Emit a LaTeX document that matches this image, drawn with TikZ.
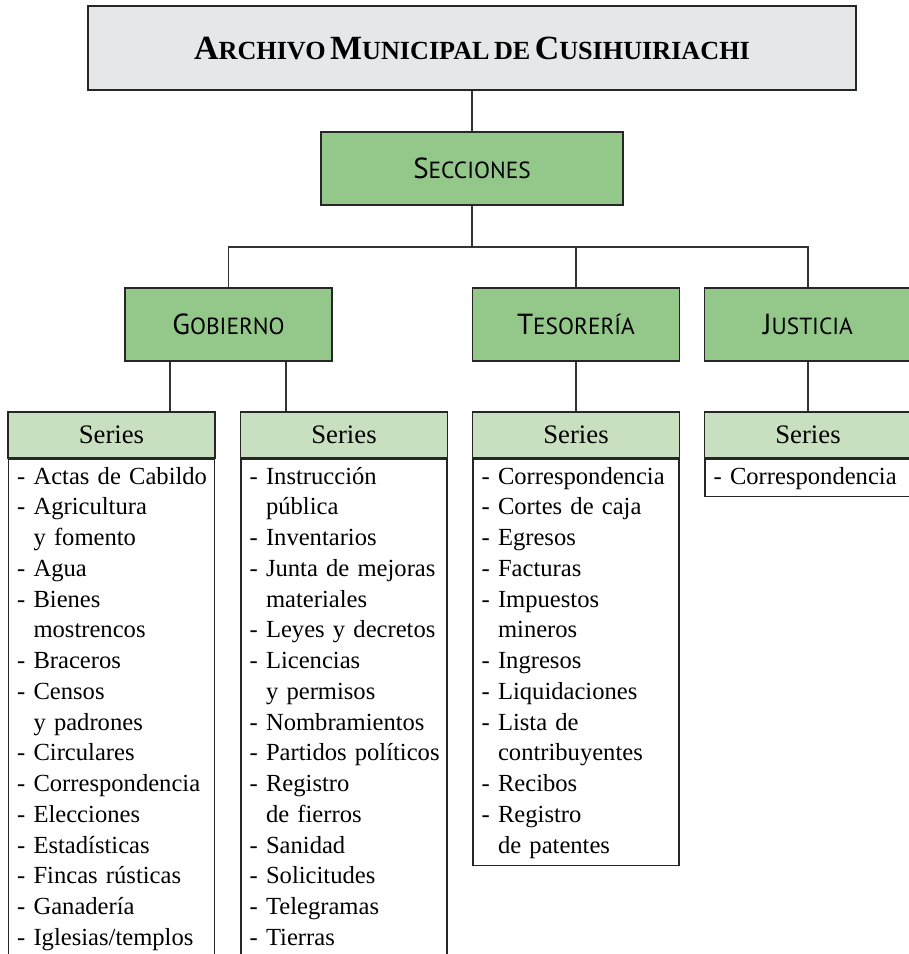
\documentclass[tikz,border=0pt]{standalone}
\usepackage{fontspec}
\setmainfont{Liberation Serif}
\newfontfamily\secfont{PT Sans}
\definecolor{titlegray}{HTML}{E6E7E8}
\definecolor{secgreen}{HTML}{93C88A}
\definecolor{headgreen}{HTML}{C8E0BF}
\newcommand{\titsc}[2]{{\fontsize{19.3}{19.3}\selectfont #1}{\fontsize{14.9}{14.9}\selectfont #2}}
\newcommand{\secsc}[2]{{\fontsize{16.5}{16.5}\selectfont #1}{\fontsize{13.3}{13.3}\selectfont #2}}
\newcommand{\cont}{\hphantom{- }}
\tikzset{
  box/.style={draw=black!85, line width=0.8pt, rectangle, inner sep=0pt},
  titlebox/.style={box, fill=titlegray, minimum width=15.36cm, minimum height=1.68cm, font=\bfseries},
  secbox/.style={box, fill=secgreen, minimum width=4.14cm, minimum height=1.46cm, font=\secfont},
  serhead/.style={box, fill=headgreen, minimum width=4.14cm, minimum height=0.92cm, font=\fontsize{15.2}{17.5}\selectfont},
  serbody/.style={box, fill=white, anchor=north, text width=107.4pt, inner xsep=5pt, inner ysep=1.8pt, align=left, font=\fontsize{14}{17.5}\selectfont},
  link/.style={draw=black!80, line width=0.6pt},
}
\begin{document}
\begin{tikzpicture}[x=0.02cm,y=-0.02cm]
\useasboundingbox (0,0) rectangle (909,954);
\clip (0,0) rectangle (909,954);
% niveles superiores
\node[titlebox] (archivo) at (472,48) {\titsc{A}{RCHIVO} \titsc{M}{UNICIPAL} \titsc{}{DE} \titsc{C}{USIHUIRIACHI}};
\node[secbox, minimum width=6.04cm] (secciones) at (472,168.5) {\secsc{S}{ECCIONES}};
\node[secbox] (gobierno) at (228.5,324.5) {\secsc{G}{OBIERNO}};
\node[secbox] (tesoreria) at (576,324.5) {\secsc{T}{ESORERÍA}};
\node[secbox] (justicia) at (808,324.5) {\secsc{J}{USTICIA}};
% series
\node[serhead] (gobA) at (111.5,435) {Series};
\node[serbody] (gobAlist) at (gobA.south) {\begin{tabular}{@{}l@{}}
- Actas de Cabildo\\
- Agricultura\\
\cont y fomento\\
- Agua\\
- Bienes\\
\cont mostrencos\\
- Braceros\\
- Censos\\
\cont y padrones\\
- Circulares\\
- Correspondencia\\
- Elecciones\\
- Estadísticas\\
- Fincas rústicas\\
- Ganadería\\
- Iglesias/templos\\
\\
\end{tabular}};
\node[serhead] (gobB) at (344,435) {Series};
\node[serbody] (gobBlist) at (gobB.south) {\begin{tabular}{@{}l@{}}
- Instrucción\\
\cont pública\\
- Inventarios\\
- Junta de mejoras\\
\cont materiales\\
- Leyes y decretos\\
- Licencias\\
\cont y permisos\\
- Nombramientos\\
- Partidos políticos\\
- Registro\\
\cont de fierros\\
- Sanidad\\
- Solicitudes\\
- Telegramas\\
- Tierras\\
\\
\end{tabular}};
\node[serhead] (tesA) at (576,435) {Series};
\node[serbody] (tesAlist) at (tesA.south) {\begin{tabular}{@{}l@{}}
- Correspondencia\\
- Cortes de caja\\
- Egresos\\
- Facturas\\
- Impuestos\\
\cont mineros\\
- Ingresos\\
- Liquidaciones\\
- Lista de\\
\cont contribuyentes\\
- Recibos\\
- Registro\\
\cont de patentes
\end{tabular}};
\node[serhead] (jusA) at (808,435) {Series};
\node[serbody] (jusAlist) at (jusA.south) {\begin{tabular}{@{}l@{}}
- Correspondencia
\end{tabular}};
% conectores
\coordinate (bus) at (472,247);
\coordinate (gl) at (170,0);
\coordinate (gr) at (286,0);
\draw[link] (archivo) -- (secciones);
\draw[link] (secciones) -- (bus);
\draw[link] (gobierno.north) |- (bus) -| (justicia.north);
\draw[link] (tesoreria.north) -- (tesoreria.north |- bus);
\draw[link] (gobierno.south -| gl) -- (gobA.north -| gl);
\draw[link] (gobierno.south -| gr) -- (gobB.north -| gr);
\draw[link] (tesoreria.south) -- (tesA.north);
\draw[link] (justicia.south) -- (jusA.north);
\end{tikzpicture}
\end{document}
